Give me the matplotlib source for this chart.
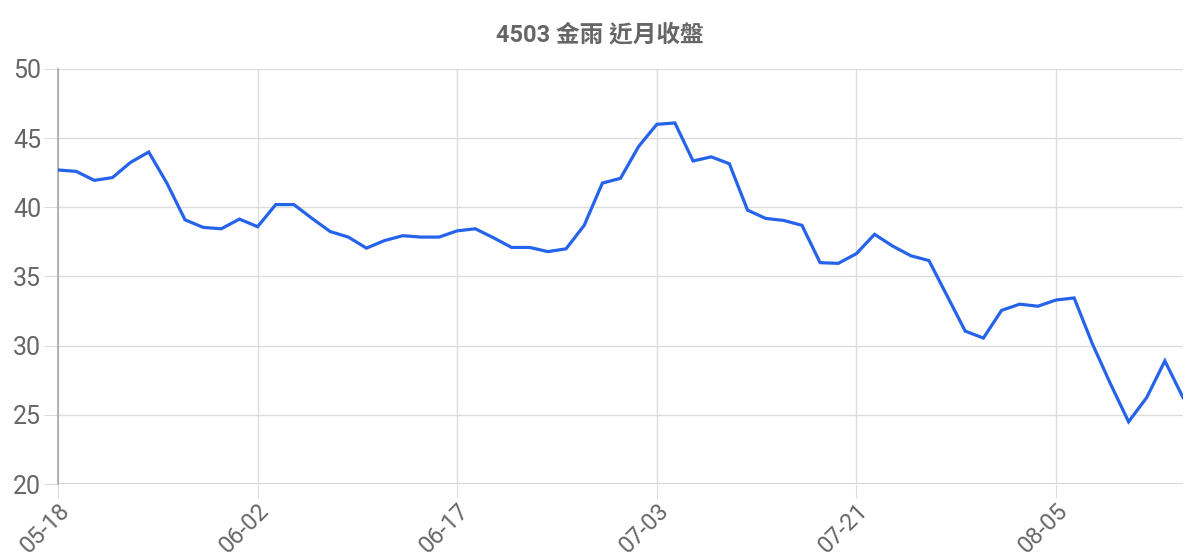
import numpy as np
import matplotlib
matplotlib.use("Agg")
import matplotlib.pyplot as plt

# closing prices, one per trading day (05-18 .. 08-13)
closes = [42.7, 42.6, 41.95, 42.15, 43.25, 44.0, 41.75, 39.1, 38.55, 38.45,
          39.15, 38.6, 40.2, 40.2, 39.2, 38.25, 37.85, 37.05, 37.6, 37.95,
          37.85, 37.85, 38.3, 38.45, 37.8, 37.1, 37.1, 36.8, 37.0, 38.7,
          41.75, 42.1, 44.4, 46.0, 46.1, 43.35, 43.65, 43.15, 39.8, 39.2,
          39.05, 38.7, 36.0, 35.95, 36.65, 38.05, 37.2, 36.5, 36.15, 33.6,
          31.05, 30.55, 32.55, 33.0, 32.85, 33.3, 33.45, 30.15, 27.25, 24.5,
          26.25, 28.9, 26.25]
tick_labels = ["05-18", "06-02", "06-17", "07-03", "07-21", "08-05"]
tick_every = 11
y_ticks = [20, 25, 30, 35, 40, 45, 50]
title = "4503 金雨 近月收盤"

plt.rcParams["font.family"] = ["Roboto", "Noto Sans CJK TC", "DejaVu Sans"]

fig = plt.figure(figsize=(12, 5.6), dpi=100)
ax = fig.add_axes([58 / 1200, 1 - 484 / 560, (1183 - 58) / 1200, (484 - 69) / 560])

x = np.arange(len(closes))
ax.plot(x, closes, color="#2563eb", lw=2.3, solid_joinstyle="miter", zorder=3)

ax.set_xlim(0, len(closes) - 1)
ax.set_ylim(y_ticks[0], y_ticks[-1])
ax.set_yticks(y_ticks)
ax.set_xticks(np.arange(len(tick_labels)) * tick_every)
ax.set_xticklabels(tick_labels, rotation=45, ha="right", rotation_mode="anchor")

ax.grid(True, color="#dcdcdc", lw=1.0, zorder=0)
for s in ["top", "right", "bottom"]:
    ax.spines[s].set_visible(False)
ax.spines["left"].set_color("#a8a8a8")
ax.spines["left"].set_linewidth(1.2)
ax.axhline(y_ticks[0], color="#cccccc", lw=1.2, zorder=1)

ax.tick_params(axis="y", length=10, color="#dcdcdc", labelsize=18,
               labelcolor="#666666", pad=2)
ax.tick_params(axis="x", length=10, color="#dcdcdc", labelsize=17,
               labelcolor="#666666", pad=1)

fig.text(600 / 1200, 1 - 35 / 560, title, ha="center", va="center",
         fontsize=17, fontweight="bold", color="#666666")

fig.savefig("out.png", dpi=100)
